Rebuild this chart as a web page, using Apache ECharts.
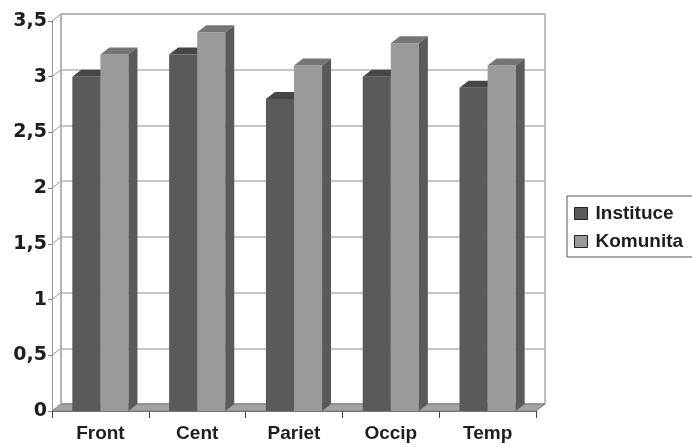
<!DOCTYPE html>
<html>
<head>
<meta charset="utf-8">
<script src="https://cdn.jsdelivr.net/npm/echarts@6/dist/echarts.min.js"></script>
<style>html,body{margin:0;padding:0;background:#fff}#c{width:692px;height:447px}</style>
</head>
<body>
<div id="c"></div>
<script>
var categories = ['Front', 'Cent', 'Pariet', 'Occip', 'Temp'];
var instituce = [3.0, 3.2, 2.8, 3.0, 2.9];
var komunita = [3.2, 3.4, 3.1, 3.3, 3.1];
var yTicks = [0, 0.5, 1, 1.5, 2, 2.5, 3, 3.5];

var DX = 9, DY = 7;

function makeRender(idx, front, topc, side) {
  return function (params, api) {
    var ci = api.value(0), v = api.value(1);
    var base = api.coord([ci, 0]);
    var top = api.coord([ci, v]);
    var cw = api.size([1, 0])[0];
    var bw = cw * 0.29;
    var x0 = base[0] + (idx === 0 ? -bw : 0);
    var x1 = x0 + bw;
    var yT = top[1], yB = base[1];
    return {
      type: 'group',
      children: [
        { type: 'rect', shape: { x: x0, y: yT, width: bw, height: yB - yT }, style: { fill: front } },
        { type: 'polygon', shape: { points: [[x0, yT], [x1, yT], [x1 + DX, yT - DY], [x0 + DX, yT - DY]] }, style: { fill: topc } },
        { type: 'polygon', shape: { points: [[x1, yT], [x1 + DX, yT - DY], [x1 + DX, yB - DY], [x1, yB]] }, style: { fill: side } }
      ]
    };
  };
}

var chart = echarts.init(document.getElementById('c'), null, { renderer: 'canvas' });
var option = {
  backgroundColor: '#fff',
  animation: false,
  legend: {
    orient: 'vertical',
    left: 567,
    top: 196,
    width: 140,
    padding: [8, 40, 6, 7],
    itemGap: 9,
    itemWidth: 13,
    itemHeight: 12,
    icon: 'rect',
    borderColor: '#555',
    borderWidth: 1,
    textStyle: { fontFamily: 'Liberation Sans, Arial', fontWeight: 'bold', fontSize: 19, color: '#1e1e1e', padding: [0, 0, 0, 3] },
    data: [
      { name: 'Instituce', itemStyle: { color: '#5a5a5c', borderColor: '#222', borderWidth: 1 } },
      { name: 'Komunita', itemStyle: { color: '#9a9a9a', borderColor: '#222', borderWidth: 1 } }
    ]
  },
  grid: [
    { left: 52, right: 156, top: 21, bottom: 36 },
    { left: 61, right: 147, top: 14, bottom: 43, show: true, borderColor: '#aaa', borderWidth: 1.5, backgroundColor: '#fff', z: -1 }
  ],
  xAxis: [
    {
      type: 'category', gridIndex: 0, data: categories,
      axisLine: { show: true, lineStyle: { color: '#777', width: 1 } },
      axisTick: { show: true, length: 7, lineStyle: { color: '#444' } },
      axisLabel: { margin: 13, fontFamily: 'Liberation Sans, Arial', fontWeight: 'bold', fontSize: 19, color: '#1e1e1e' },
      z: 5
    },
    { type: 'category', gridIndex: 1, data: categories, show: false }
  ],
  yAxis: [
    {
      type: 'value', gridIndex: 0, min: 0, max: 3.5, interval: 0.5,
      axisLine: { show: true, lineStyle: { color: '#999' } },
      axisTick: { show: true, length: 4, lineStyle: { color: '#888' } },
      splitLine: { show: false },
      axisLabel: {
        margin: 5, fontFamily: 'DejaVu Sans', fontWeight: 'bold', fontSize: 19, color: '#1e1e1e',
        formatter: function (v) { return String(v).replace('.', ','); }
      }
    },
    {
      type: 'value', gridIndex: 1, min: 0, max: 3.5, interval: 0.5,
      axisLine: { show: false }, axisTick: { show: false }, axisLabel: { show: false },
      splitLine: { show: true, lineStyle: { color: '#b3b3b3', width: 1.5 } }
    }
  ],
  series: [
    {
      type: 'custom', name: 'floor', xAxisIndex: 0, yAxisIndex: 0, z: 1, silent: true,
      data: [[0, 0]],
      renderItem: function (params, api) {
        var cs = params.coordSys;
        var yb = cs.y + cs.height, xl = cs.x, xr = cs.x + cs.width;
        return {
          type: 'polygon',
          shape: { points: [[xl, yb], [xr, yb], [xr + DX, yb - DY], [xl + DX, yb - DY]] },
          style: { fill: '#a3a3a3', stroke: '#7a7a7a', lineWidth: 1 }
        };
      }
    },
    {
      type: 'custom', name: 'walltick', xAxisIndex: 0, yAxisIndex: 0, z: 1, silent: true,
      data: yTicks.map(function (t) { return [0, t]; }),
      renderItem: function (params, api) {
        var cs = params.coordSys;
        var y = api.coord([0, api.value(1)])[1];
        return {
          type: 'line',
          shape: { x1: cs.x, y1: y, x2: cs.x + DX, y2: y - DY },
          style: { stroke: '#999', lineWidth: 1 }
        };
      }
    },
    {
      type: 'custom', name: 'sidewall', xAxisIndex: 0, yAxisIndex: 0, z: 1, silent: true,
      data: [[0, 0]],
      renderItem: function (params, api) {
        var cs = params.coordSys;
        return {
          type: 'line',
          shape: { x1: cs.x + DX, y1: cs.y - DY, x2: cs.x + DX, y2: cs.y + cs.height - DY },
          style: { stroke: '#aaa', lineWidth: 1 }
        };
      }
    },
    {
      type: 'custom', name: 'Instituce', xAxisIndex: 0, yAxisIndex: 0, z: 3,
      itemStyle: { color: '#5a5a5c' },
      data: instituce.map(function (v, i) { return [i, v]; }),
      renderItem: makeRender(0, '#5a5a5c', '#464646', '#3c3c3c')
    },
    {
      type: 'custom', name: 'Komunita', xAxisIndex: 0, yAxisIndex: 0, z: 4,
      itemStyle: { color: '#9a9a9a' },
      data: komunita.map(function (v, i) { return [i, v]; }),
      renderItem: makeRender(1, '#9a9a9a', '#757575', '#5a5a5a')
    }
  ]
};
chart.setOption(option);
</script>
</body>
</html>
